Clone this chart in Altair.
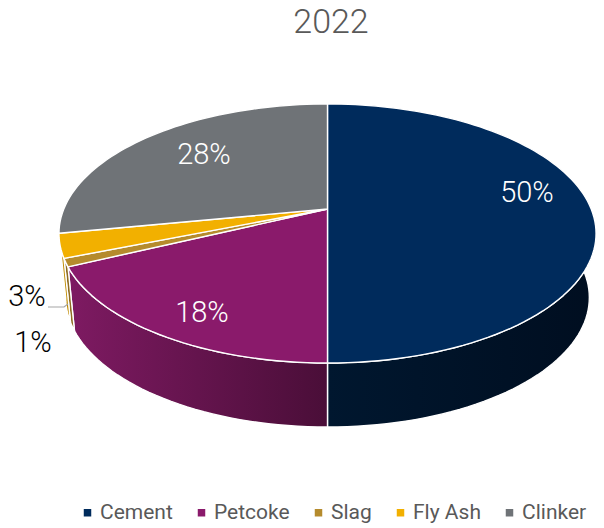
import math
import altair as alt
import pandas as pd

# ---- data ----
names = ["Cement", "Petcoke", "Slag", "Fly Ash", "Clinker"]
values = [50, 18, 1, 3, 28]
colors = ["#002b5c", "#8a1a6b", "#b58b2d", "#f2b000", "#6f7377"]
side_left = ["#00172f", "#7e1a62", "#8f6c22", "#c08c00", "#55585b"]
side_right = ["#000e20", "#4a0e38", "#8f6c22", "#c08c00", "#55585b"]
chart_title = "2022"

# ---- layout of the pseudo-3D pie (page pixels) ----
W, H = 588, 520
CX, CY = 327.5, 209
A, B, K = 263.7, 124.9, 0.1892
DEPTH, BOTTOM_SHRINK = 64, 0.975
LABEL_POS = {"Cement": (527, 193), "Petcoke": (202, 313), "Clinker": (204, 155),
             "Fly Ash": (27, 297), "Slag": (33, 343)}
WHITE_LABEL = {"Cement", "Petcoke", "Clinker"}
FONT = "Roboto"


def project(pct, shrink=1.0, dy=0.0):
    t = math.radians(pct * 3.6)
    X, Y = math.sin(t), math.cos(t)
    w = 1 + K * Y
    return CX + shrink * A * X / w, CY + dy - B * Y / w


def steps(a, b):
    n = max(2, int(abs(b - a) * 2))
    return [a + (b - a) * i / n for i in range(n + 1)]


x_scale = alt.Scale(domain=[8, 8 + W], nice=False, zero=False)
y_scale = alt.Scale(domain=[8 + H, 8], nice=False, zero=False)


def polygon(pts, fill):
    df = pd.DataFrame({"x": [p[0] for p in pts], "y": [p[1] for p in pts], "i": range(len(pts))})
    return alt.Chart(df).mark_line(
        fill=fill, stroke="white", strokeWidth=1.4, strokeJoin="round"
    ).encode(
        x=alt.X("x:Q", scale=x_scale, axis=None),
        y=alt.Y("y:Q", scale=y_scale, axis=None),
        order=alt.Order("i:Q"),
    )


starts, acc = [], 0
for v in values:
    starts.append(acc)
    acc += v

sides, tops = [], []
for name, v, s, c, l, r in zip(names, values, starts, colors, side_left, side_right):
    ts = steps(s, s + v)
    top_arc = [project(t) for t in ts]
    if name != "Clinker":
        low_arc = [project(t, BOTTOM_SHRINK, DEPTH) for t in reversed(ts)]
        grad = alt.Gradient(gradient="linear", x1=0, x2=1, y1=0, y2=0,
                            stops=[alt.GradientStop(color=l, offset=0),
                                   alt.GradientStop(color=r, offset=1)])
        sides.append(polygon(top_arc + low_arc + top_arc[:1], grad))
    tops.append(polygon([(CX, CY)] + top_arc + [(CX, CY)], c))

# leader line for the 3% label
leader = alt.Chart(pd.DataFrame({"x": [48, 64, 68], "y": [307, 307, 304], "i": [0, 1, 2]})).mark_line(
    stroke="#a6a6a6", strokeWidth=1.2
).encode(
    x=alt.X("x:Q", scale=x_scale, axis=None),
    y=alt.Y("y:Q", scale=y_scale, axis=None),
    order=alt.Order("i:Q"),
)

lab = pd.DataFrame({
    "label": [f"{v}%" for v in values],
    "x": [LABEL_POS[n][0] for n in names],
    "y": [LABEL_POS[n][1] for n in names],
    "col": ["white" if n in WHITE_LABEL else "black" for n in names],
})
labels = alt.Chart(lab).mark_text(font=FONT, fontSize=29, fontWeight=300, baseline="middle", align="center").encode(
    x=alt.X("x:Q", scale=x_scale, axis=None),
    y=alt.Y("y:Q", scale=y_scale, axis=None),
    text="label:N",
    color=alt.Color("col:N", scale=None, legend=None),
)

title_mark = alt.Chart(pd.DataFrame({"t": [chart_title], "x": [331], "y": [23]})).mark_text(
    font=FONT, fontSize=34, fontWeight=300, color="#595959", baseline="middle", align="center"
).encode(
    x=alt.X("x:Q", scale=x_scale, axis=None),
    y=alt.Y("y:Q", scale=y_scale, axis=None),
    text="t:N",
)

legend_src = alt.Chart(pd.DataFrame({"name": names})).mark_square(opacity=0, size=56).encode(
    fill=alt.Fill(
        "name:N",
        scale=alt.Scale(domain=names, range=colors),
        legend=alt.Legend(
            orient="none", legendX=69, legendY=494, direction="horizontal", columns=5,
            title=None, symbolType="square", symbolSize=56, symbolOpacity=1, symbolStrokeWidth=0,
            labelFont=FONT, labelFontSize=21, labelColor="#595959",
            columnPadding=18, labelOffset=2, padding=0,
        ),
    )
)

chart = alt.layer(*sides, *tops, leader, labels, title_mark, legend_src).properties(
    width=W, height=H, padding=0, autosize=alt.AutoSizeParams(type="none"),
).configure_view(stroke=None)

chart.save("out.html", embed_options={"renderer": "svg", "actions": False})
